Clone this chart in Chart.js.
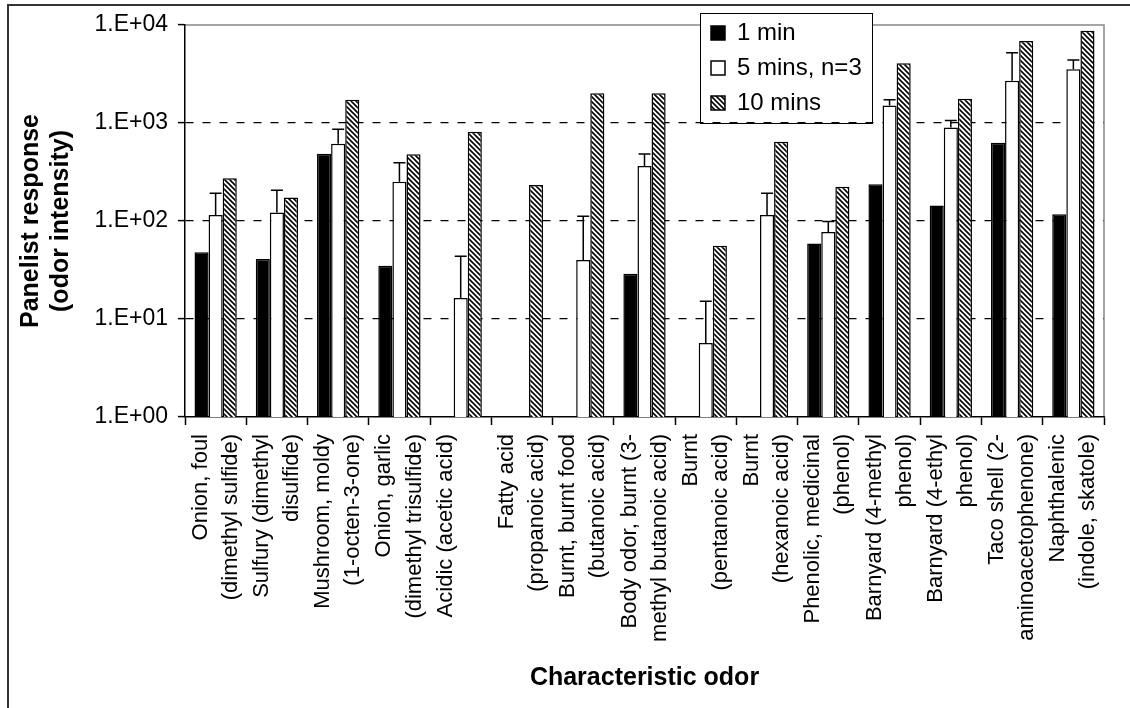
<!DOCTYPE html>
<html>
<head>
<meta charset="utf-8">
<script src="https://cdn.jsdelivr.net/npm/chart.js@4.4.0/dist/chart.umd.min.js"></script>
<style>
    html, body { margin: 0; padding: 0; background: #fff; }
    #wrap { width: 1130px; height: 708px; position: relative; }
</style>
</head>
<body>
<div id="wrap"><canvas id="odorChart"></canvas></div>
<script>
const odors = [
    ['Onion, foul', '(dimethyl sulfide)'],
    ['Sulfury (dimethyl', 'disulfide)'],
    ['Mushroom, moldy', '(1-octen-3-one)'],
    ['Onion, garlic', '(dimethyl trisulfide)'],
    'Acidic (acetic acid)',
    ['Fatty acid', '(propanoic acid)'],
    ['Burnt, burnt food', '(butanoic acid)'],
    ['Body odor, burnt (3-', 'methyl butanoic acid)'],
    ['Burnt', '(pentanoic acid)'],
    ['Burnt', '(hexanoic acid)'],
    ['Phenolic, medicinal', '(phenol)'],
    ['Barnyard (4-methyl', 'phenol)'],
    ['Barnyard (4-ethyl', 'phenol)'],
    ['Taco shell (2-', 'aminoacetophenone)'],
    ['Naphthalenic', '(indole, skatole)']
];

const oneMin = [48, 41, 486, 35, null, null, null, 29, null, null, 59, 237, 144, 630, 117];
const fiveMins = [115, 122, 615, 252, 16.4, 1, 40, 364, 5.7, 115, 77, 1510, 900, 2700, 3530];
// upper end of the error bar on the 5 mins series
const fiveMinsTop = [192, 206, 862, 394, 43.6, null, 112, 483, 15.2, 192, 99, 1730, 1058, 5210, 4400];
const tenMins = [273, 174, 1730, 479, 816, 233, 2010, 2010, 56, 645, 224, 4060, 1770, 6870, 8750];

const yTicks = [1, 10, 100, 1000, 10000];

const fontFamily = '"Liberation Sans", Arial, sans-serif';

function hatch() {
    const c = document.createElement('canvas');
    c.width = 5;
    c.height = 5;
    const g = c.getContext('2d');
    g.fillStyle = '#fff';
    g.fillRect(0, 0, 5, 5);
    g.strokeStyle = '#000';
    g.lineWidth = 1.6;
    g.beginPath();
    g.moveTo(-1, -1); g.lineTo(6, 6);
    g.moveTo(-1, 4); g.lineTo(1, 6);
    g.moveTo(4, -1); g.lineTo(6, 1);
    g.stroke();
    return g.createPattern(c, 'repeat');
}

// error bars (upward only) on the white bars
const errorBars = {
    id: 'errorBars',
    afterDatasetsDraw(chart) {
        const meta = chart.getDatasetMeta(1);
        const y = chart.scales.y;
        const ctx = chart.ctx;
        ctx.save();
        ctx.strokeStyle = '#000';
        ctx.lineWidth = 1.5;
        meta.data.forEach((bar, i) => {
            if (fiveMinsTop[i] == null) return;
            const top = y.getPixelForValue(fiveMinsTop[i]);
            ctx.beginPath();
            ctx.moveTo(bar.x, bar.y);
            ctx.lineTo(bar.x, top);
            ctx.moveTo(bar.x - 6, top);
            ctx.lineTo(bar.x + 6, top);
            ctx.stroke();
        });
        ctx.restore();
    }
};

// outer border, plot frame and the legend box
const frame = {
    id: 'frame',
    afterLayout(chart) {
        const lg = chart.legend;
        lg.left = 700;
        lg.top = 10;
        lg.right = lg.left + lg.width;
        lg.bottom = lg.top + lg.height;
    },
    beforeDraw(chart) {
        const ctx = chart.ctx;
        const a = chart.chartArea;
        ctx.save();
        ctx.strokeStyle = '#333';
        ctx.lineWidth = 2;
        ctx.beginPath();
        ctx.moveTo(8, 708);
        ctx.lineTo(8, 5);
        ctx.lineTo(1130, 5);
        ctx.stroke();

        ctx.strokeStyle = '#888';
        ctx.lineWidth = 1.5;
        ctx.beginPath();
        ctx.moveTo(a.left, a.top);
        ctx.lineTo(a.right, a.top);
        ctx.lineTo(a.right, a.bottom);
        ctx.stroke();

        ctx.fillStyle = '#fff';
        ctx.fillRect(700, 13, 172, 110);
        ctx.strokeStyle = '#000';
        ctx.lineWidth = 1;
        ctx.strokeRect(700.5, 13.5, 172, 110);
        ctx.restore();
    }
};

new Chart(document.getElementById('odorChart'), {
    type: 'bar',
    data: {
        labels: odors,
        datasets: [{
            label: '1 min',
            data: oneMin,
            backgroundColor: '#000',
            borderColor: '#000',
            borderWidth: 1.5
        }, {
            label: '5 mins, n=3',
            data: fiveMins,
            backgroundColor: '#fff',
            borderColor: '#000',
            borderWidth: 1.5
        }, {
            label: '10 mins',
            data: tenMins,
            backgroundColor: hatch(),
            borderColor: '#000',
            borderWidth: 1.5
        }]
    },
    options: {
        responsive: true,
        maintainAspectRatio: false,
        animation: false,
        datasets: {
            bar: {
                barPercentage: 1,
                categoryPercentage: 0.69
            }
        },
        layout: {
            padding: { left: 10, top: 25, right: 26, bottom: 0 }
        },
        plugins: {
            legend: {
                position: 'chartArea',
                align: 'start',
                labels: {
                    color: '#000',
                    boxWidth: 14,
                    boxHeight: 14,
                    padding: 11,
                    font: { family: fontFamily, size: 24 }
                }
            },
            tooltip: { enabled: false }
        },
        scales: {
            x: {
                grid: {
                    offset: true,
                    drawOnChartArea: false,
                    drawTicks: true,
                    tickLength: 8,
                    tickColor: '#000',
                    tickWidth: 1.5
                },
                border: { color: '#000', width: 1.5 },
                ticks: {
                    autoSkip: false,
                    minRotation: 90,
                    maxRotation: 90,
                    padding: 9,
                    labelOffset: -15,
                    color: '#000',
                    font: { family: fontFamily, size: 22, lineHeight: 1.364 }
                },
                title: {
                    display: true,
                    text: 'Characteristic odor',
                    color: '#000',
                    padding: { top: 0, bottom: 15 },
                    font: { family: fontFamily, size: 25, weight: 'bold', lineHeight: 1.2 }
                },
                afterFit(scale) {
                    scale.height = 291;
                    scale.paddingLeft = 0;
                    scale.paddingRight = 0;
                }
            },
            y: {
                type: 'logarithmic',
                min: 1,
                max: 10000,
                afterBuildTicks(scale) {
                    scale.ticks = yTicks.map(v => ({ value: v }));
                },
                grid: {
                    color: c => (c.tick && (c.tick.value === 1 || c.tick.value === 10000)) ? 'rgba(0,0,0,0)' : '#000',
                    lineWidth: 1.2,
                    tickColor: '#000',
                    tickLength: 7,
                    tickWidth: 1.5
                },
                border: {
                    color: '#000',
                    width: 1.5,
                    dash: c => (c.tick && c.tick.value > 1 && c.tick.value < 10000) ? [8, 9] : []
                },
                ticks: {
                    color: '#000',
                    padding: 10,
                    font: { family: fontFamily, size: 23 },
                    callback: v => '1.E+' + String(Math.round(Math.log10(v))).padStart(2, '0')
                },
                title: {
                    display: true,
                    text: ['Panelist response', '(odor intensity)'],
                    color: '#000',
                    padding: { top: 6, bottom: 0 },
                    font: { family: fontFamily, size: 25, weight: 'bold', lineHeight: 1.2 }
                },
                afterFit(scale) {
                    scale.width = 175;
                }
            }
        }
    },
    plugins: [errorBars, frame]
});
</script>
</body>
</html>
